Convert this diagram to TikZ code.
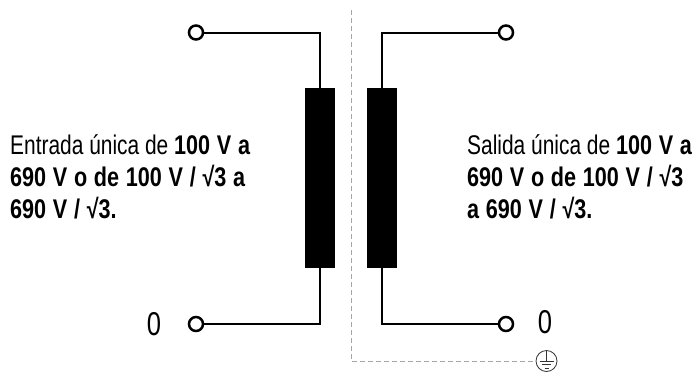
\documentclass[tikz,border=0pt]{standalone}
\usepackage{fontspec}
\setmainfont[FakeStretch=0.775,BoldFeatures={FakeStretch=0.8,WordSpace=1.12}]{Liberation Sans}
\begin{document}
\begin{tikzpicture}[x=1pt, y=-1pt, font=\fontsize{27}{32}\selectfont]
  \tikzset{
    wire/.style={line width=2pt},
    terminal/.style={circle,draw,line width=2.5pt,fill=white,inner sep=0pt,minimum size=14pt},
    winding/.style={fill=black,draw=none,inner sep=0pt,minimum width=30.5pt,minimum height=180pt},
    screen/.style={gray!70,line width=1pt,dash pattern=on 5pt off 3pt},
    earthline/.style={line width=.8pt,black!80},
    caption/.style={align=left,anchor=north west,inner sep=0pt},
    zero/.style={font=\fontsize{33}{35}\selectfont}
  }
  \useasboundingbox (0,0) rectangle (695,372);

  % windings
  \node[winding] (primary) at (320,178) {};
  \node[winding] (secondary) at (382,178) {};

  % terminals
  \node[terminal] (inA) at (196,32.5) {};
  \node[terminal] (inB) at (196,324) {};
  \node[terminal] (outA) at (506,32.5) {};
  \node[terminal] (outB) at (506,324) {};

  \draw[wire] (inA) -| (primary.north);
  \draw[wire] (inB) -| (primary.south);
  \draw[wire] (outA) -| (secondary.north);
  \draw[wire] (outB) -| (secondary.south);

  % earth
  \node[circle,draw,earthline,inner sep=0pt,minimum size=21pt] (earth) at (546.5,361) {};
  \coordinate (screentop) at (351,10);
  \draw[screen] (screentop) |- (earth);
  \coordinate (eb) at (546.5,361);
  \draw[earthline] (earth.north) -- (eb);
  \draw[earthline] (eb) ++(-7,0) -- ++(14,0);
  \draw[earthline] (eb) ++(-4.5,3.5) -- ++(9,0);
  \draw[earthline] (eb) ++(-2,7) -- ++(4,0);

  % labels
  \node[caption] (inlabel) at (10,134) {Entrada única de \textbf{100 V a}\\
    \textbf{690 V o de 100 V / √3 a}\\
    \textbf{690 V / √3.}};
  \node[caption] (outlabel) at (467,134) {Salida única de \textbf{100 V a}\\
    \textbf{690 V o de 100 V / √3}\\
    \textbf{a 690 V / √3.}};
  \node[zero] (inzero) at (154,324) {0};
  \node[zero] (outzero) at (545,322) {0};
\end{tikzpicture}
\end{document}
